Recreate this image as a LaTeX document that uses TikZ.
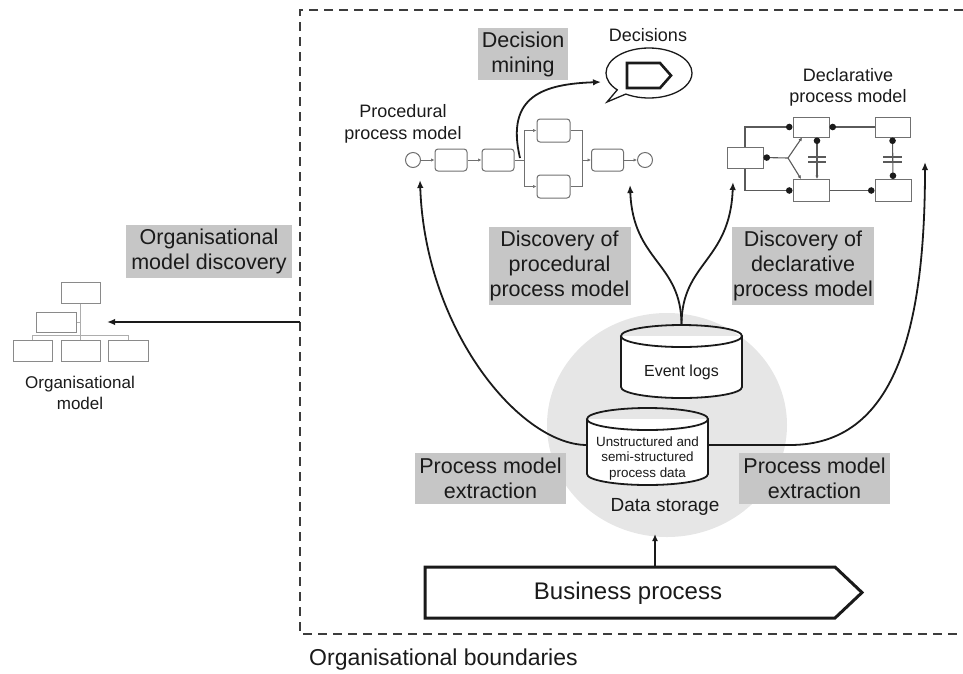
\documentclass[tikz,border=0pt]{standalone}
\usepackage{fontspec}
\setmainfont{Liberation Sans}
\usetikzlibrary{arrows.meta,shapes.geometric,shapes.callouts,calc}
\definecolor{lblgray}{HTML}{C6C6C6}
\definecolor{ink}{HTML}{1A1A1A}
\definecolor{pgray}{HTML}{707070}
\definecolor{dsgray}{HTML}{E6E6E6}
\definecolor{ogray}{HTML}{8A8A8A}
\begin{document}
\begin{tikzpicture}[x=1pt,y=-1pt,
  lbl/.style={fill=lblgray, inner sep=0pt, align=center, font=\fontsize{21.5}{25}\selectfont, text=ink},
  small/.style={align=center, inner sep=0pt, font=\fontsize{18}{21.5}\selectfont, text=ink},
  main/.style={draw=ink, line width=1.8pt, -{Latex[length=8pt,width=6.5pt]}},
  ptask/.style={draw=pgray, rounded corners=3pt, line width=1pt, minimum width=32pt, minimum height=22pt, inner sep=0pt},
  pev/.style={draw=pgray, circle, line width=1pt, minimum size=15pt, inner sep=0pt},
  pline/.style={draw=pgray, line width=1pt, -{Latex[length=3.5pt,width=3.5pt]}},
  pplain/.style={draw=pgray, line width=1pt},
  dbox/.style={draw=pgray, line width=1pt, minimum width=36pt, minimum height=21pt, inner sep=0pt},
  dline/.style={draw=pgray!80!black, line width=1.1pt},
  obox/.style={draw=ogray, line width=1pt, minimum width=39pt, minimum height=21pt, inner sep=0pt},
  oline/.style={draw=ogray!70, line width=1pt},
  cyl/.style={draw=ink, line width=1.8pt}
]
\useasboundingbox (0,0) rectangle (963,673);

% organisational boundary
\draw[draw=ink!85, line width=2.2pt, dash pattern=on 9pt off 6pt] (963,10) -- (300,10) -- (300,634) -- (963,634);
\node[anchor=west, inner sep=0pt, font=\fontsize{23}{27}\selectfont, text=ink] (bnd) at (309,660) {Organisational boundaries};

% data storage disc
\node[ellipse, fill=dsgray, minimum width=240pt, minimum height=224pt, inner sep=0pt] (store) at (667,425) {};
\node[inner sep=0pt, font=\fontsize{19}{22}\selectfont, text=ink] (dstxt) at (665,507) {Data storage};

% labels
\node[lbl, minimum width=166pt, minimum height=53pt] (lOrg) at (209,251.5) {Organisational\\model discovery};
\node[lbl, minimum width=90pt, minimum height=52pt] (lDM) at (523,54) {Decision\\mining};
\node[lbl, minimum width=142pt, minimum height=78pt] (lDP) at (559.5,266) {Discovery of\\procedural\\process model};
\node[lbl, minimum width=142pt, minimum height=78pt] (lDD) at (803,266) {Discovery of\\declarative\\process model};
\node[lbl, minimum width=151pt, minimum height=51pt] (lEL) at (490.5,478.5) {Process model\\extraction};
\node[lbl, minimum width=151pt, minimum height=51pt] (lER) at (814.5,478.5) {Process model\\extraction};

% organisational model
\node[obox] (oT) at (80.5,292.5) {};
\node[obox, minimum width=40pt, minimum height=20pt] (oM) at (56,322) {};
\node[obox] (oB1) at (32.5,350.5) {};
\node[obox] (oB2) at (80.5,350.5) {};
\node[obox, minimum width=40pt] (oB3) at (128,350.5) {};
\draw[oline] (oT.south) -- (oB2.north);
\draw[oline] (oB1.north) -- ++(0,-4) -- ($(oB3.north)+(0,-4)$) -- (oB3.north);
\draw[oline] (oM.east) -- (oM.east -| oT.south);
\node[align=center, inner sep=0pt, font=\fontsize{17}{21}\selectfont, text=ink] (otxt) at (80,392.5) {Organisational\\model};
\coordinate (orgStart) at (300,322);
\coordinate (orgTip) at (107,322);
\draw[main] (orgStart) -- (orgTip);

% procedural process model
\node[small] (ptxt) at (403,124) {Procedural\\process model};
\node[pev] (ps) at (413,160) {};
\node[ptask] (p1) at (451,160) {};
\node[ptask] (p2) at (498,160) {};
\node[ptask, minimum width=33pt, minimum height=23pt] (p3) at (553.5,130.5) {};
\node[ptask, minimum width=33pt, minimum height=23pt] (p4) at (553.5,186.5) {};
\node[ptask] (p5) at (607.5,160) {};
\node[pev] (pe) at (645,160) {};
\coordinate (psplit) at (524,160);
\coordinate (pjoin) at (582,160);
\draw[pline] (ps) -- (p1);
\draw[pline] (p1) -- (p2);
\draw[pplain] (p2.east) -- (psplit);
\draw[pplain] (psplit |- p3.west) -- (psplit |- p4.west);
\draw[pline] (psplit |- p3.west) -- (p3.west);
\draw[pline] (psplit |- p4.west) -- (p4.west);
\draw[pplain] (p3.east) -| (pjoin);
\draw[pplain] (p4.east) -| (pjoin);
\draw[pline] (pjoin) -- (p5);
\draw[pline] (p5) -- (pe);

% decisions bubble
\node[small] (dectxt) at (648,35) {Decisions};
\node[ellipse callout, draw=ink, line width=1.3pt, fill=white, minimum width=86pt, minimum height=50pt, inner sep=0pt, callout absolute pointer={(607,102)}] (bubble) at (649,73) {};
\draw[draw=ink, line width=2.6pt, line join=miter] (627,63) -- (660,63) -- (671,75.5) -- (660,88) -- (627,88) -- cycle;
\coordinate (dmStart) at (520,158);
\coordinate (dmEnd) at (601,82);
\draw[main] (dmStart) .. controls (505,95) and (545,84) .. (dmEnd);

% declarative process model
\node[small] (dtxt) at (848,87.5) {Declarative\\process model};
\node[dbox] (dL) at (745,157.5) {};
\node[dbox, minimum height=20pt] (dTM) at (811,127) {};
\node[dbox, minimum height=22pt] (dBM) at (811,190.5) {};
\node[dbox, minimum width=35pt, minimum height=20pt] (dTR) at (892.5,127) {};
\node[dbox, minimum height=22pt] (dBR) at (893,190.5) {};
\coordinate (dfork) at (788,158);
\draw[dline, -{Circle[length=6.5pt,color=ink]}] (dL.north) |- (dTM.west);
\draw[dline, -{Circle[length=6.5pt,color=ink]}] (dL.south) |- (dBM.west);
\draw[dline, {Circle[length=6.5pt,color=ink]}-] (dL.east) -- (dfork);
\draw[dline, -{Latex[length=3.5pt,width=3.5pt]}] (dfork) -- ([xshift=-9pt]dTM.south);
\draw[dline, -{Latex[length=3.5pt,width=3.5pt]}] (dfork) -- ([xshift=-10pt]dBM.north);
\draw[dline, {Circle[length=6.5pt,color=ink]}-{Latex[length=3.5pt,width=3.5pt]}] ([xshift=6pt]dTM.south) -- ([xshift=6pt]dBM.north);
\draw[dline] (808,157) -- (826,157) (808,162) -- (826,162);
\draw[dline, {Circle[length=6.5pt,color=ink]}-] (dTM.east) -- (dTR.west);
\draw[dline, -{Circle[length=6.5pt,color=ink]}] (dBM.east) -- (dBR.west);
\draw[dline, {Circle[length=6.5pt,color=ink]}-{Circle[length=6.5pt,color=ink]}] (dTR.south) -- (dBR.north);
\draw[dline] (883,157) -- (902,157) (883,162) -- (902,162);

% event logs cylinder
\fill[white] (621,336) rectangle (742,387);
\fill[white] (681.5,387) ellipse [x radius=60.5pt, y radius=11pt];
\draw[cyl] (621,336) -- (621,387) arc[start angle=180, end angle=360, x radius=60.5pt, y radius=11pt] -- (742,336);
\draw[cyl] (681.5,336) ellipse [x radius=60.5pt, y radius=11pt];
\node[inner sep=0pt, font=\fontsize{16}{19}\selectfont, text=ink] (el) at (681.5,372) {Event logs};

% process data cylinder
\fill[white] (587,419) rectangle (708,474);
\fill[white] (647.5,474) ellipse [x radius=60.5pt, y radius=11pt];
\draw[cyl] (587,419) -- (587,474) arc[start angle=180, end angle=360, x radius=60.5pt, y radius=11pt] -- (708,419);
\draw[cyl] (647.5,419) ellipse [x radius=60.5pt, y radius=11pt];
\node[align=center, inner sep=0pt, font=\fontsize{13.4}{15.5}\selectfont, text=ink] (pd) at (647.5,458.5) {Unstructured and\\semi-structured\\process data};

% discovery arrows
\coordinate (elTop) at (681.5,325);
\coordinate (procTip) at (630,185);
\coordinate (declTip) at (733,182);
\draw[main] (elTop) .. controls (681.5,262) and (633,262) .. (procTip);
\draw[main] (elTop) .. controls (681.5,262) and (730,262) .. (declTip);

% extraction arrows
\coordinate (dsL) at (587,445);
\coordinate (dsR) at (708,445);
\coordinate (leftTip) at (420,180);
\coordinate (rightTip) at (925,162);
\draw[main] (dsL) .. controls (520,445) and (425,330) .. (leftTip);
\draw[main] (dsR) -- (790,445) .. controls (895,445) and (925,330) .. (rightTip);

% business process
\draw[draw=ink, line width=3pt, line join=miter, fill=white] (425,567) -- (835,567) -- (862,592.5) -- (835,618) -- (425,618) -- cycle;
\node[inner sep=0pt, font=\fontsize{24}{28}\selectfont, text=ink] (bp) at (628,593) {Business process};
\coordinate (bpTop) at (655,567);
\coordinate (storeIn) at (655,534);
\draw[draw=ink, line width=1.6pt, -{Latex[length=7pt,width=6pt]}] (bpTop) -- (storeIn);
\end{tikzpicture}
\end{document}
